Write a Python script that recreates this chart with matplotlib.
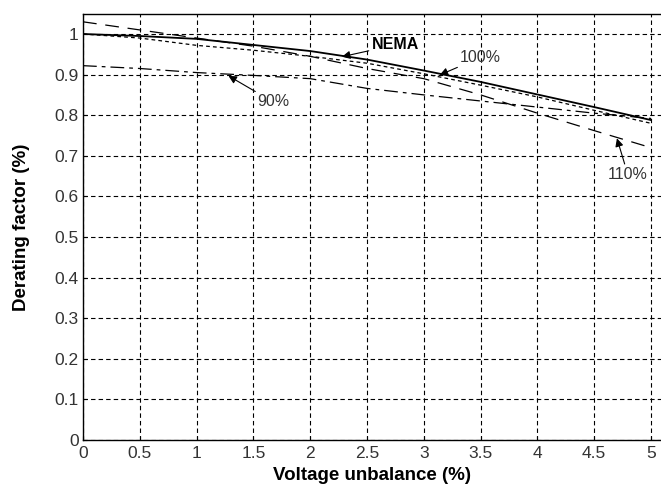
import matplotlib
matplotlib.use("Agg")
import matplotlib.pyplot as plt

plt.rcParams["font.family"] = ["Liberation Sans", "DejaVu Sans"]

# voltage unbalance (%)
x_vals = [0, 0.5, 1.0, 1.5, 2.0, 2.5, 3.0, 3.5, 4.0, 4.5, 5.0]

# derating factor curves
nema = [1.0, 0.995, 0.988, 0.973, 0.958, 0.937, 0.910, 0.882, 0.851, 0.820, 0.788]
load_100 = [1.0, 0.99, 0.972, 0.960, 0.945, 0.928, 0.902, 0.874, 0.845, 0.812, 0.780]
load_110 = [1.03, 1.01, 0.99, 0.97, 0.945, 0.915, 0.89, 0.85, 0.805, 0.762, 0.72]
load_90 = [0.922, 0.915, 0.905, 0.898, 0.89, 0.866, 0.85, 0.835, 0.82, 0.805, 0.792]

x_ticks = [0, 0.5, 1, 1.5, 2, 2.5, 3, 3.5, 4, 4.5, 5]
y_ticks = [0, 0.1, 0.2, 0.3, 0.4, 0.5, 0.6, 0.7, 0.8, 0.9, 1.0]
x_ticklabels = ["0", "0.5", "1", "1.5", "2", "2.5", "3", "3.5", "4", "4.5", "5"]
y_ticklabels = ["0", "0.1", "0.2", "0.3", "0.4", "0.5", "0.6", "0.7", "0.8", "0.9", "1"]

fig = plt.figure(figsize=(6.61, 4.87), dpi=100)
ax = fig.add_axes([83 / 661, 47 / 487, 578 / 661, 425.7 / 487])

ax.plot(x_vals, load_90, color="k", lw=0.9, dashes=(11, 4, 3, 4))
ax.plot(x_vals, load_110, color="k", lw=0.9, dashes=(11, 7))
ax.plot(x_vals, load_100, color="k", lw=0.9, dashes=(3, 2.5))
ax.plot(x_vals, nema, color="k", lw=1.3)

ax.set_xlim(0, 5.088)
ax.set_ylim(0, 1.0485)
ax.set_xticks(x_ticks)
ax.set_xticklabels(x_ticklabels)
ax.set_yticks(y_ticks)
ax.set_yticklabels(y_ticklabels)
ax.tick_params(direction="in", length=3, labelsize=12.5, colors="k", labelcolor="#333333")
ax.tick_params(axis="x", pad=4)
ax.tick_params(axis="y", pad=3)

ax.grid(True, color="k", lw=0.8, dashes=(4, 2.8))
ax.spines["right"].set_visible(False)
for side in ["left", "bottom", "top"]:
    ax.spines[side].set_linewidth(1.0)

ax.set_xlabel("Voltage unbalance (%)", fontsize=13.5, fontweight="bold", labelpad=5)
ax.set_ylabel("Derating factor (%)", fontsize=13.5, fontweight="bold", labelpad=18)

arrow = dict(arrowstyle="-|>", color="k", lw=0.8, mutation_scale=12, shrinkA=0, shrinkB=0)
ax.annotate("NEMA", xy=(2.28, 0.944), xytext=(2.54, 0.973), fontsize=11.5,
            fontweight="bold", va="center", ha="left", arrowprops=arrow)
ax.annotate("100%", xy=(3.14, 0.899), xytext=(3.32, 0.924), fontsize=11.5,
            va="bottom", ha="left", color="#333333", arrowprops=arrow)
ax.annotate("90%", xy=(1.28, 0.897), xytext=(1.53, 0.833), fontsize=11.5,
            va="center", ha="left", color="#333333", arrowprops=arrow)
ax.annotate("110%", xy=(4.70, 0.743), xytext=(4.62, 0.673), fontsize=11.5,
            va="top", ha="left", color="#333333", arrowprops=arrow)

fig.savefig("out.png", dpi=100)
